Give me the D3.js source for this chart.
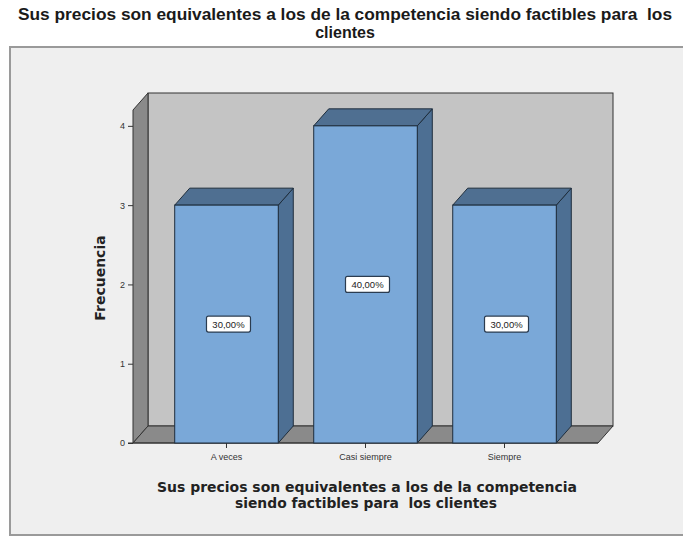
<!DOCTYPE html>
<html><head><meta charset="utf-8">
<script src="https://cdn.jsdelivr.net/npm/d3@7"></script>
<style>body{margin:0;background:#fff}svg{display:block}text{white-space:pre}</style>
</head><body>
<svg id="c" width="683" height="537"></svg>
<script>
const categories = ["A veces", "Casi siempre", "Siempre"];
const values = [3, 4, 3];
const percentLabels = ["30,00%", "40,00%", "30,00%"];
const yTicks = [0, 1, 2, 3, 4];
const titleLines = ["Sus precios son equivalentes a los de la competencia siendo factibles para  los", "clientes"];
const xTitleLines = ["Sus precios son equivalentes a los de la competencia", "siendo factibles para  los clientes"];
const yTitle = "Frecuencia";

const svg = d3.select("#c");
const W = 683, H = 537;
const dx = 15, dy = 17;
const x0 = 133, x1 = 598, yBottom = 443, yTop = 110;

// frame
svg.append("rect").attr("x", 10).attr("y", 47).attr("width", 690).attr("height", 488)
  .attr("fill", "#efefef").attr("stroke", "#9a9a9a").attr("stroke-width", 2);

// title
const title = svg.append("text").attr("text-anchor", "middle")
  .attr("font-family", "Liberation Sans, Arial, sans-serif").attr("font-weight", "bold")
  .attr("font-size", 16).attr("fill", "#1a1a1a");
title.append("tspan").attr("x", 345).attr("y", 20).attr("textLength", 654)
  .attr("lengthAdjust", "spacingAndGlyphs").text(titleLines[0]);
title.append("tspan").attr("x", 345).attr("y", 38).text(titleLines[1]);

const y = d3.scaleLinear().domain([0, 4.2]).range([yBottom, yTop]);
const x = d3.scaleBand().domain(categories).range([x0, x1]).paddingInner(0.255).paddingOuter(0.3);

// back wall
svg.append("rect").attr("x", x0 + dx).attr("y", yTop - dy).attr("width", x1 - x0).attr("height", yBottom - yTop)
  .attr("fill", "#c4c4c4").attr("stroke", "#333").attr("stroke-width", 1);
// left side wall
svg.append("path").attr("d", `M${x0},${yTop}L${x0 + dx},${yTop - dy}L${x0 + dx},${yBottom - dy}L${x0},${yBottom}Z`)
  .attr("fill", "#8a8a8a").attr("stroke", "#333").attr("stroke-width", 1);
// floor
svg.append("path").attr("d", `M${x0},${yBottom}L${x0 + dx},${yBottom - dy}L${x1 + dx},${yBottom - dy}L${x1},${yBottom}Z`)
  .attr("fill", "#8a8a8a").attr("stroke", "#333").attr("stroke-width", 1);

// y axis ticks
const ya = svg.append("g").attr("transform", `translate(${x0},0)`)
  .call(d3.axisLeft(y).tickValues(yTicks).tickSize(5).tickPadding(3).tickFormat(d3.format("d")));
ya.select(".domain").remove();
ya.selectAll("line").attr("stroke", "#333");
ya.selectAll("text").attr("font-family", "Liberation Sans, Arial, sans-serif").attr("font-size", 9).attr("fill", "#333");

// x axis
const xa = svg.append("g").attr("transform", `translate(0,${yBottom})`)
  .call(d3.axisBottom(x).tickSize(5).tickPadding(6));
xa.select(".domain").remove();
xa.selectAll("line").attr("stroke", "#333");
xa.selectAll("text").attr("font-family", "Liberation Sans, Arial, sans-serif").attr("font-size", 9).attr("fill", "#333");
svg.append("line").attr("x1", x0 - 5).attr("x2", x1).attr("y1", yBottom).attr("y2", yBottom).attr("stroke", "#333");

// bars
const bars = svg.append("g").selectAll("g").data(categories).join("g");
bars.each(function (c, i) {
  const g = d3.select(this);
  const bx = x(c), bw = x.bandwidth(), by = y(values[i]);
  g.append("path").attr("d", `M${bx + bw},${by}L${bx + bw + dx},${by - dy}L${bx + bw + dx},${yBottom - dy}L${bx + bw},${yBottom}Z`)
    .attr("fill", "#4d6f93").attr("stroke", "#1e2d3c").attr("stroke-width", 1);
  g.append("path").attr("d", `M${bx},${by}L${bx + dx},${by - dy}L${bx + bw + dx},${by - dy}L${bx + bw},${by}Z`)
    .attr("fill", "#4f6f91").attr("stroke", "#1e2d3c").attr("stroke-width", 1);
  g.append("rect").attr("x", bx).attr("y", by).attr("width", bw).attr("height", yBottom - by)
    .attr("fill", "#7aa8d8").attr("stroke", "#1e2d3c").attr("stroke-width", 1);
  const cy = y(values[i] / 2), cx = bx + bw / 2 + 2;
  g.append("rect").attr("x", cx - 22).attr("y", cy - 8).attr("width", 44).attr("height", 16).attr("rx", 2)
    .attr("fill", "#fff").attr("stroke", "#2b3c50").attr("stroke-width", 1.2);
  g.append("text").attr("x", cx).attr("y", cy + 3.5).attr("text-anchor", "middle")
    .attr("font-family", "Liberation Sans, Arial, sans-serif").attr("font-size", 9.5).attr("fill", "#222")
    .text(percentLabels[i]);
});

// axis titles
const xt = svg.append("text").attr("text-anchor", "middle")
  .attr("font-family", "DejaVu Sans, Verdana, sans-serif").attr("font-weight", "bold")
  .attr("font-size", 14).attr("fill", "#222");
xt.append("tspan").attr("x", 367).attr("y", 492).attr("textLength", 420).attr("lengthAdjust", "spacingAndGlyphs").text(xTitleLines[0]);
xt.append("tspan").attr("x", 366).attr("y", 508).attr("textLength", 262).attr("lengthAdjust", "spacingAndGlyphs").text(xTitleLines[1]);

svg.append("text").attr("transform", `translate(105,278) rotate(-90)`).attr("text-anchor", "middle")
  .attr("font-family", "DejaVu Sans, Verdana, sans-serif").attr("font-weight", "bold")
  .attr("font-size", 14).attr("fill", "#222").text(yTitle);
</script>
</body></html>
